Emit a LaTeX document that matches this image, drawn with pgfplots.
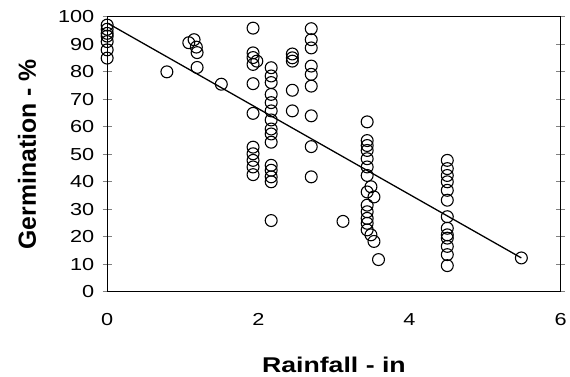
\documentclass[border=0pt]{standalone}
\usepackage{pgfplots}
\pgfplotsset{compat=1.18}
\usepackage{fontspec}
\setmainfont{Liberation Sans}
\newfontfamily\wide{Liberation Sans}[FakeStretch=1.25]
\begin{document}
\begin{tikzpicture}
\begin{axis}[
  scale only axis,
  width=457pt, height=277pt,
  xmin=0, xmax=6, ymin=0, ymax=100,
  xtick={0,2,4,6}, ytick={0,10,...,100},
  axis line style={line width=1.2pt},
  tick align=center,
  major tick length=9pt,
  ytick style={line width=0.8pt},
  xtick style={draw=none},
  /pgf/number format/assume math mode=true,
  ticklabel style={font=\wide\fontsize{17.5}{20}\selectfont},
  yticklabel style={xshift=-5pt},
  xticklabel style={yshift=-14pt},
  every axis y label/.style={at={(axis description cs:-0.177,0.5)}, rotate=90, anchor=center, font=\bfseries\fontsize{25}{27}\selectfont},
  every axis x label/.style={at={(axis description cs:0.5,-0.267)}, anchor=center, font=\wide\bfseries\fontsize{21.5}{23}\selectfont},
  xlabel={Rainfall - in},
  ylabel={Germination - \%},
  clip=false,
]
\addplot[only marks, mark=o, mark size=6pt, line width=1.1pt, black] table {
x y
0 97
0 95.5
0 94
0 93
0 91
0 88
0 85
0.79 80
1.08 90.6
1.15 91.7
1.18 89
1.19 87
1.19 81.6
1.51 75.5
1.93 95.9
1.93 86.9
1.93 85.2
1.98 83.9
1.93 82.7
1.93 75.7
1.93 64.9
1.93 52.6
1.93 50.2
1.93 47.8
1.93 45.4
1.93 42.6
2.17 81.5
2.17 78.5
2.17 76.1
2.17 71.8
2.17 68.8
2.17 65.8
2.17 62.5
2.17 59.2
2.17 57.4
2.17 54.4
2.17 46
2.17 44.2
2.17 41.8
2.17 40
2.17 25.9
2.45 86.5
2.45 85.1
2.45 83.9
2.45 73.3
2.45 65.8
2.70 95.7
2.70 91.7
2.70 88.7
2.70 82.1
2.70 79.1
2.70 74.8
2.70 64
2.70 52.8
2.70 41.8
3.12 25.6
3.44 61.8
3.44 55
3.44 53.2
3.44 51.4
3.44 48.4
3.44 45.4
3.44 42.3
3.49 38.2
3.44 36.3
3.53 34.5
3.44 31.5
3.44 29.1
3.44 26.7
3.44 24.9
3.44 22.5
3.49 20.7
3.53 18.3
3.59 11.7
4.5 47.8
4.5 44.8
4.5 42.3
4.5 40
4.5 36.9
4.5 33.3
4.5 27.3
4.5 23.1
4.5 20.7
4.5 19.5
4.5 16.5
4.5 13.5
4.5 9.5
5.48 12.3
};
\addplot[black, line width=1.3pt] coordinates {(0,97.8) (5.48,12.3)};
\end{axis}
\path (-108pt,-85pt) rectangle (462pt,294pt);
\end{tikzpicture}
\end{document}
